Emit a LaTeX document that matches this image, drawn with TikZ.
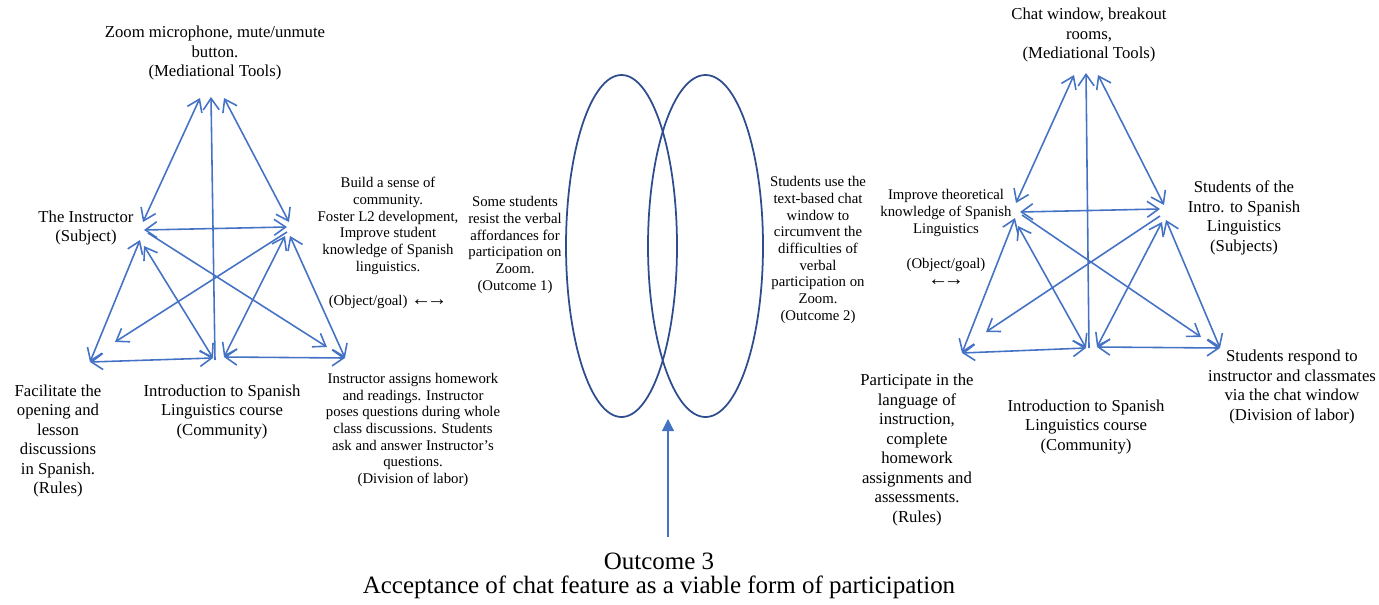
\documentclass[tikz,border=0pt]{standalone}
\usepackage{fontspec}
\setmainfont{Liberation Serif}
\usetikzlibrary{arrows.meta}
\definecolor{lineblue}{HTML}{4472C4}
\definecolor{ringblue}{HTML}{2E4D8E}
\def\dblarrow{{\fontsize{11.5}{11.5}\selectfont ←\kern-2.5pt→}}
\tikzset{
	link/.style={lineblue, line width=0.9pt},
	ring/.style={ringblue, line width=1pt},
	lbl/.style={align=center, inner sep=0pt, font=\fontsize{9.5}{11.1}\selectfont},
	smlbl/.style={align=center, inner sep=0pt, font=\fontsize{8.4}{9.5}\selectfont},
	>={Straight Barb[length=2.3mm,width=3.2mm]}
}

\begin{document}
\begin{tikzpicture}[x=0.02cm, y=-0.02cm]
		%%%%% START %%%%%
		\useasboundingbox (0,0) rectangle (1379,605);
		
		% left system
		\node[lbl] (ltool) at (215,53) {Zoom microphone, mute/unmute\\button.\\(Mediational Tools)};
		\node[lbl] (lsubj) at (86,228) {The Instructor\\(Subject)};
		\node[smlbl] (lgoal) at (388,226) {Build a sense of\\community.\\Foster L2 development,\\Improve student\\knowledge of Spanish\\linguistics.};
		\node[smlbl] (lgoaltag) at (388,302) {(Object/goal) \dblarrow};
		\node[smlbl] (lout) at (515,245) {Some students\\resist the verbal\\affordances for\\participation on\\Zoom.\\(Outcome 1)};
		\node[lbl] (lrule) at (58,441) {Facilitate the\\opening and\\lesson\\discussions\\in Spanish.\\(Rules)};
		\node[lbl] (lcomm) at (222,412) {Introduction to Spanish\\Linguistics course\\(Community)};
		\node[smlbl] (ldiv) at (413,430) {Instructor assigns homework\\and readings.  Instructor\\poses questions during whole\\class discussions. Students\\ask and answer Instructor's\\questions.\\(Division of labor)};
		
		\coordinate (lt1) at (200,98);
		\coordinate (lt2) at (211,97);
		\coordinate (lt3) at (224,98);
		\coordinate (ls1) at (143,222);
		\coordinate (ls2) at (144,230);
		\coordinate (ls3) at (140,240);
		\coordinate (ls4) at (144,246);
		\coordinate (ls5) at (148,233);
		\coordinate (lo1) at (289,222);
		\coordinate (lo2) at (287,227);
		\coordinate (lo3) at (287,232);
		\coordinate (lo4) at (285,236);
		\coordinate (lo5) at (290,236);
		\coordinate (lr) at (90,362);
		\coordinate (lr2) at (115,342);
		\coordinate (lc1) at (213,358);
		\coordinate (lc2) at (215,360);
		\coordinate (lc3) at (224,357);
		\coordinate (ld) at (345,358);
		\coordinate (ld2) at (327,347);
		
		\draw[link,<->] (lt1) -- (ls1);
		\draw[link,->] (lc2) -- (lt2);
		\draw[link,<->] (lt3) -- (lo1);
		\draw[link,<->] (ls2) -- (lo2);
		\draw[link,<->] (ls3) -- (lr);
		\draw[link,<->] (ls4) -- (lc1);
		\draw[link,->] (ls5) -- (ld2);
		\draw[link,->] (lo3) -- (lr2);
		\draw[link,<->] (lo4) -- (lc3);
		\draw[link,<->] (lo5) -- (ld);
		\draw[link,<->] (lr) -- (lc1);
		\draw[link,<->] (lc3) -- (ld);
		
		% the two outcomes
		\draw[ring] (621.5,246) ellipse [x radius=55.5, y radius=171];
		\draw[ring] (705.5,246) ellipse [x radius=57.5, y radius=171];
		
		\node[font=\fontsize{14.2}{14}\selectfont, align=center, inner sep=0pt] (out3) at (659,576) {Outcome 3\\Acceptance of chat feature as a viable form of participation};
		\coordinate (vbase) at (668,537);
		\coordinate (vtip) at (668,419);
		\draw[lineblue, line width=0.7pt, -{Triangle[length=2.4mm,width=2.4mm]}] (vbase) -- (vtip);
		
		% right system
		\node[lbl] (rtool) at (1089,35) {Chat window, breakout\\rooms,\\(Mediational Tools)};
		\node[smlbl] (rout) at (818,250) {Students use the\\text-based chat\\window to\\circumvent the\\difficulties of\\verbal\\participation on\\Zoom.\\(Outcome 2)};
		\node[smlbl] (rgoal) at (946,213) {Improve theoretical\\knowledge of Spanish\\Linguistics};
		\node[smlbl] (rgoaltag) at (946,272) {(Object/goal)\\\dblarrow};
		\node[lbl] (rsubj) at (1244,218) {Students of the\\Intro. to Spanish\\Linguistics\\(Subjects)};
		\node[lbl] (rrule) at (917,450) {Participate in the\\language of\\instruction,\\complete\\homework\\assignments and\\assessments.\\(Rules)};
		\node[lbl] (rcomm) at (1086,427) {Introduction to Spanish\\Linguistics course\\(Community)};
		\node[lbl] (rdiv) at (1292,387) {Students respond to\\instructor and classmates\\via the chat window\\(Division of labor)};
		
		\coordinate (rt1) at (1074,75);
		\coordinate (rt2) at (1086,73);
		\coordinate (rt3) at (1098,75);
		\coordinate (ro1) at (1016,203);
		\coordinate (ro2) at (1020,212);
		\coordinate (ro3) at (1015,218);
		\coordinate (ro4) at (1018,226);
		\coordinate (ro5) at (1022,215);
		\coordinate (rs1) at (1164,205);
		\coordinate (rs2) at (1160,209);
		\coordinate (rs3) at (1160,216);
		\coordinate (rs4) at (1162,222);
		\coordinate (rs5) at (1166,220);
		\coordinate (rr) at (962,353);
		\coordinate (rr2) at (986,332);
		\coordinate (rc1) at (1086,348);
		\coordinate (rc2) at (1089,348);
		\coordinate (rc3) at (1097,347);
		\coordinate (rd) at (1220,348);
		\coordinate (rd2) at (1201,337);
		
		\draw[link,<->] (rt1) -- (ro1);
		\draw[link,->] (rc2) -- (rt2);
		\draw[link,<->] (rt3) -- (rs1);
		\draw[link,<->] (ro2) -- (rs2);
		\draw[link,<->] (ro3) -- (rr);
		\draw[link,<->] (ro4) -- (rc1);
		\draw[link,->] (ro5) -- (rd2);
		\draw[link,->] (rs3) -- (rr2);
		\draw[link,<->] (rs4) -- (rc3);
		\draw[link,<->] (rs5) -- (rd);
		\draw[link,<->] (rr) -- (rc1);
		\draw[link,<->] (rc3) -- (rd);
		
		%%%%% END %%%%%
	\end{tikzpicture}
\end{document}
